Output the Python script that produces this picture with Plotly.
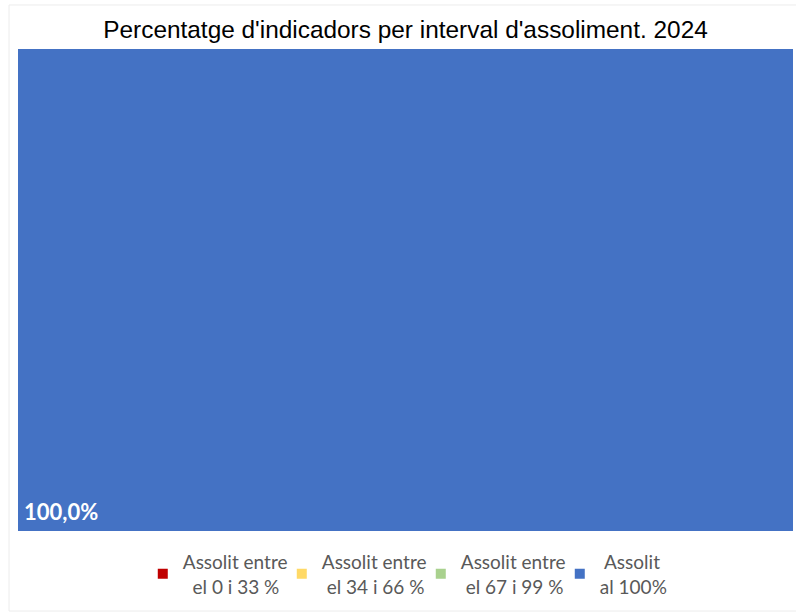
import plotly.graph_objects as go

categories = ["2024"]
series_names = [
    "Assolit entre<br>\u00a0\u00a0el 0 i 33 %",
    "Assolit entre<br>\u00a0el 34 i 66 %",
    "Assolit entre<br>\u00a0el 67 i 99 %",
    "\u00a0Assolit<br>al 100%",
]
values_0_33 = [0.0]
values_34_66 = [0.0]
values_67_99 = [0.0]
values_100 = [100.0]
colors = ["#C00000", "#FFD966", "#A9D18E", "#4472C4"]

series_values = [values_0_33, values_34_66, values_67_99, values_100]

fig = go.Figure()
for name, vals, col in zip(series_names, series_values, colors):
    fig.add_trace(go.Bar(x=categories, y=vals, marker=dict(color=col, line=dict(width=0)),
                         width=1, showlegend=False, hoverinfo="skip"))
# legend entries (small squares)
for name, col in zip(series_names, colors):
    fig.add_trace(go.Scatter(x=[None], y=[None], mode="markers", name=name,
                             marker=dict(symbol="square", size=10, color=col)))

label = f"{values_100[0]:.1f}".replace(".", ",") + "%"
fig.add_annotation(text=f"<b>{label}</b>", xref="paper", yref="paper", x=0, y=0,
                   xanchor="left", yanchor="bottom", xshift=4, yshift=4, showarrow=False,
                   font=dict(family="Lato, Carlito, sans-serif", size=22, color="white"))

fig.add_shape(type="rect", xref="paper", yref="paper", x0=-0.0116, x1=1.02, y0=-0.166, y1=1.0913,
              line=dict(color="#ececec", width=1), layer="below")

fig.update_layout(
    width=796, height=615,
    margin=dict(l=18, r=3, t=49, b=84),
    paper_bgcolor="white", plot_bgcolor="white",
    barmode="stack", bargap=0,
    title=dict(text="Percentatge d'indicadors per interval d'assoliment. 2024",
               x=0.5, xanchor="center", xref="paper", y=1 - 29 / 615, yanchor="middle",
               font=dict(family="Liberation Sans, Arial, sans-serif",
                         size=24.4, color="#000000")),
    xaxis=dict(visible=False, range=[-0.5, 0.5]),
    yaxis=dict(visible=False, range=[0, 100]),
    legend=dict(orientation="h", x=0.161, xanchor="left", y=-0.024, yanchor="top",
                traceorder="normal",
                font=dict(family="Lato, Carlito, sans-serif", size=19, color="#595959"),
                entrywidth=94, itemwidth=30, valign="middle"),
)

fig.write_html("out.html", config={"displayModeBar": False},
               post_script="document.body.style.margin='0';document.body.style.overflow='hidden';")
